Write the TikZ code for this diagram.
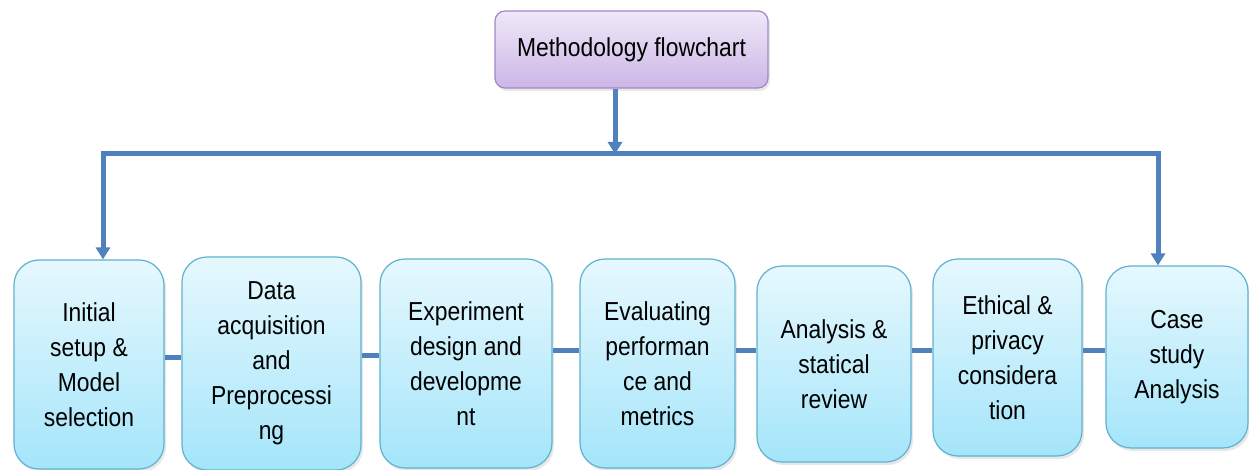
\documentclass[tikz,border=0pt]{standalone}
\usepackage{fontspec}
\setmainfont{Liberation Sans}[FakeStretch=0.88]
\usetikzlibrary{arrows.meta,shadows}
\definecolor{linkblue}{RGB}{79,129,189}
\definecolor{stepedge}{RGB}{96,178,206}
\definecolor{steptop}{RGB}{230,248,254}
\definecolor{stepbottom}{RGB}{164,229,250}
\definecolor{headedge}{RGB}{160,136,198}
\definecolor{headtop}{RGB}{239,232,248}
\definecolor{headbottom}{RGB}{204,182,230}
\tikzset{
  txt/.style={font=\fontsize{26}{35}\selectfont, align=center, text=black},
  stepbox/.style={txt, draw=stepedge, line width=1.2pt, rounded corners=25pt,
    top color=steptop, bottom color=stepbottom, inner sep=0pt,
    drop shadow={shadow xshift=2pt, shadow yshift=-3pt, opacity=0.18}},
  headbox/.style={txt, draw=headedge, line width=1.2pt, rounded corners=10pt,
    top color=headtop, bottom color=headbottom, inner sep=0pt,
    minimum width=273pt, minimum height=77pt,
    drop shadow={shadow xshift=2pt, shadow yshift=-3pt, opacity=0.18}},
  conn/.style={draw=linkblue, line width=5pt},
  tip/.style={-{Triangle[width=14pt,length=12pt]}},
}
\begin{document}
\begin{tikzpicture}[x=1pt, y=-1pt]
  \useasboundingbox[fill=white] (0,0) rectangle (1249,470);

  % heading
  \node[headbox] (head) at (631.5,49.5) {Methodology flowchart};

  % process steps
  \node[stepbox, minimum width=150pt, minimum height=209pt] (b1) at (89,364.5)
    {Initial\\setup \&\\Model\\selection};
  \node[stepbox, minimum width=179pt, minimum height=213pt] (b2) at (271.5,363.5)
    {Data\\acquisition\\and\\Preprocessi\\ng};
  \node[stepbox, minimum width=172pt, minimum height=209pt] (b3) at (466,363.5)
    {Experiment\\design and\\developme\\nt};
  \node[stepbox, minimum width=155pt, minimum height=209pt] (b4) at (657.5,363.5)
    {Evaluating\\performan\\ce and\\metrics};
  \node[stepbox, minimum width=154pt, minimum height=196pt] (b5) at (834,364)
    {Analysis \&\\statical\\review};
  \node[stepbox, minimum width=149pt, minimum height=197pt] (b6) at (1007.5,357.5)
    {Ethical \&\\privacy\\considera\\tion};
  \node[stepbox, minimum width=142pt, minimum height=182pt] (b7) at (1177,357)
    {Case\\study\\Analysis};

  % distribution bus
  \coordinate (busL) at (103,154);
  \coordinate (busR) at (1158,154);
  \coordinate (tap) at (615,154);
  \draw[conn, tip] (tap |- head.south) -- (tap);
  \draw[conn, {Triangle[width=14pt,length=12pt]}-{Triangle[width=14pt,length=12pt]}, line join=miter]
    (busL |- b1.north) -- (busL) -- (busR) -- (busR |- b7.north);

  % links between neighbouring steps
  \draw[conn] (b1.east |- 0,357) -- (b2.west |- 0,357);
  \draw[conn] (b2.east |- 0,355) -- (b3.west |- 0,355);
  \draw[conn] (b3.east |- 0,350) -- (b4.west |- 0,350);
  \draw[conn] (b4.east |- 0,350) -- (b5.west |- 0,350);
  \draw[conn] (b5.east |- 0,350) -- (b6.west |- 0,350);
  \draw[conn] (b6.east |- 0,350) -- (b7.west |- 0,350);
\end{tikzpicture}
\end{document}
